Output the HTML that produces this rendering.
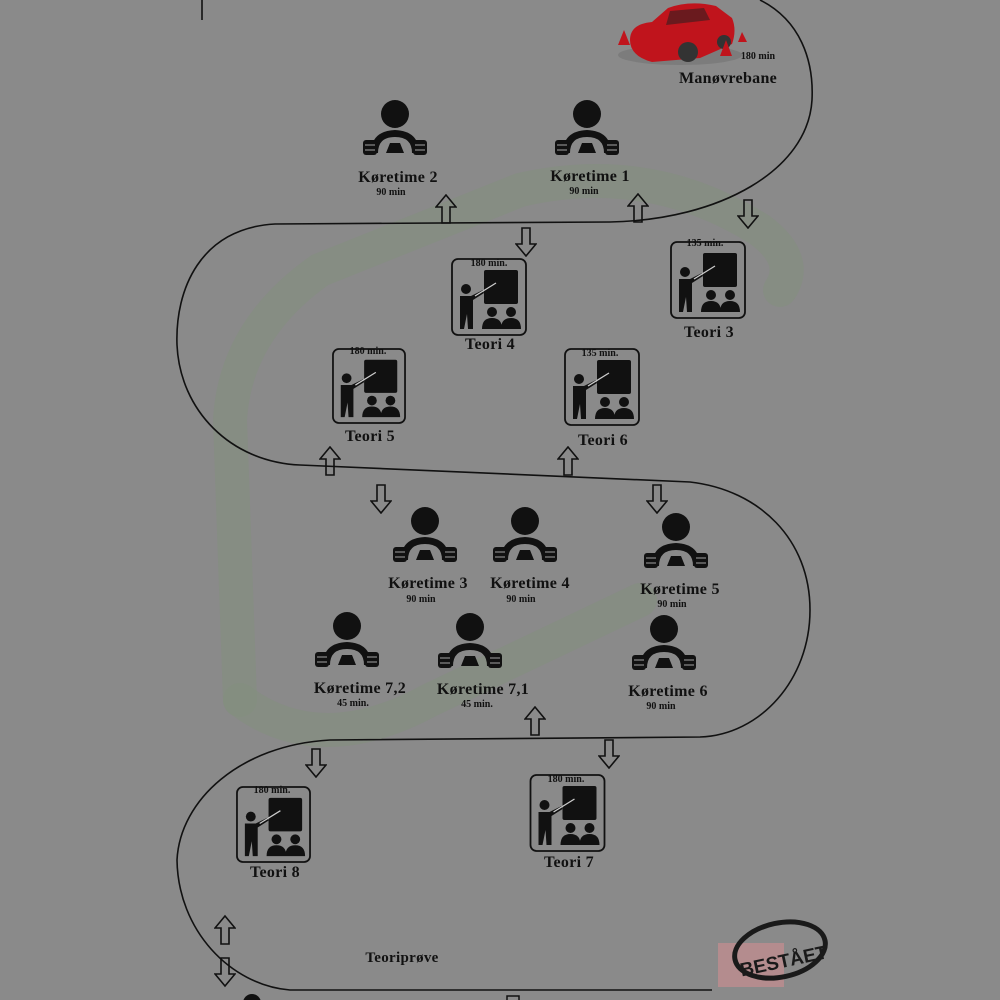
<!DOCTYPE html>
<html><head><meta charset="utf-8"><style>
html,body{margin:0;padding:0}
body{width:1000px;height:1000px;background:#8a8a8a;position:relative;overflow:hidden;font-family:"Liberation Serif","DejaVu Serif",serif;color:#111}
.l{position:absolute;font-weight:bold;font-size:16px;transform:translateX(-50%);white-space:nowrap;letter-spacing:0.3px}
.s{position:absolute;font-weight:bold;font-size:10px;transform:translateX(-50%);white-space:nowrap}
svg{position:absolute;left:0;top:0}
</style></head><body>
<svg width="1000" height="1000" viewBox="0 0 1000 1000">
<defs>
<symbol id="drv" viewBox="-32 -32 64 64">
<circle cx="0" cy="-17" r="14" fill="#111"/>
<path d="M-24 22 Q-24 0 0 -1 Q24 0 24 22 L17 22 Q17 6 0 6 Q-17 6 -17 22Z" fill="#111"/>
<path d="M-9 22 L-5 12 L5 12 L9 22Z" fill="#111"/>
<rect x="-32" y="9" width="14" height="15" rx="3" fill="#111"/>
<rect x="18" y="9" width="14" height="15" rx="3" fill="#111"/>
<line x1="-30" y1="14" x2="-20" y2="14" stroke="#8a8a8a" stroke-width="1.2"/>
<line x1="-30" y1="19" x2="-20" y2="19" stroke="#8a8a8a" stroke-width="1.2"/>
<line x1="20" y1="14" x2="30" y2="14" stroke="#8a8a8a" stroke-width="1.2"/>
<line x1="20" y1="19" x2="30" y2="19" stroke="#8a8a8a" stroke-width="1.2"/>
</symbol>
<symbol id="teo" viewBox="0 0 76 78">
<rect x="1" y="1" width="74" height="76" rx="6" fill="none" stroke="#111" stroke-width="1.8"/>
<rect x="33" y="12" width="34" height="34" rx="2" fill="#111"/>
<circle cx="15" cy="31" r="5" fill="#111"/>
<path d="M9 38 L20 38 L32 32 L33 35 L22 42 L22 71 L17 71 L16 56 L13 71 L9 71Z" fill="#111"/>
<line x1="24" y1="38" x2="45" y2="25" stroke="#ccc" stroke-width="1.3"/>
<circle cx="41" cy="54" r="5" fill="#111"/><circle cx="60" cy="54" r="5" fill="#111"/>
<path d="M31 71 Q31 60 41 60 Q51 60 51 71Z M50 71 Q50 60 60 60 Q70 60 70 71Z" fill="#111"/>
</symbol>
<symbol id="up" viewBox="0 0 22 30"><path d="M11 1 L21 13 L15 13 L15 29 L7 29 L7 13 L1 13Z" fill="none" stroke="#111" stroke-width="1.6"/></symbol>
<symbol id="dn" viewBox="0 0 22 30"><path d="M11 29 L21 17 L15 17 L15 1 L7 1 L7 17 L1 17Z" fill="none" stroke="#111" stroke-width="1.6"/></symbol>
</defs>
<!-- watermark -->
<g fill="none" stroke="#84907f" stroke-opacity="0.6" stroke-width="34" stroke-linecap="round">
<path d="M240 700 L230 420 Q235 330 320 270 L520 190 Q650 160 760 230 Q800 260 780 290"/>
<path d="M240 700 Q320 760 430 700 L640 600"/>
</g>
<path d="M760 0 C 800 20, 814 60, 812 100 C 808 170, 720 220, 610 222 L 275 224 C 200 228, 175 290, 177 345 C 180 410, 230 462, 300 465 L 690 482 C 760 490, 810 540, 810 610 C 810 680, 760 735, 700 737 L 330 740 C 240 745, 180 800, 177 860 C 178 930, 230 985, 290 990 L 712 990" fill="none" stroke="#111" stroke-width="1.6"/>
<line x1="202" y1="0" x2="202" y2="20" stroke="#111" stroke-width="1.6"/>
<!-- car -->
<g>
<ellipse cx="680" cy="55" rx="62" ry="10" fill="#7c7c7c"/>
<path d="M630 40 Q630 24 652 22 L668 8 Q690 0 716 6 L732 18 Q737 30 732 44 L700 58 L652 62 Q630 56 630 40Z" fill="#c0141c"/>
<path d="M670 11 L704 8 L710 20 L666 25Z" fill="#6a1a1e"/>
<circle cx="688" cy="52" r="10" fill="#333"/><circle cx="724" cy="42" r="7" fill="#333"/>
<path d="M618 45 L624 30 L630 45Z M720 56 L726 40 L732 56Z M738 42 L742 32 L747 42Z" fill="#c0141c"/>
</g>
<use href="#drv" x="363" y="99" width="64" height="64"/>
<use href="#drv" x="555" y="99" width="64" height="64"/>
<use href="#drv" x="393" y="506" width="64" height="64"/>
<use href="#drv" x="493" y="506" width="64" height="64"/>
<use href="#drv" x="644" y="512" width="64" height="64"/>
<use href="#drv" x="315" y="611" width="64" height="64"/>
<use href="#drv" x="438" y="612" width="64" height="64"/>
<use href="#drv" x="632" y="614" width="64" height="64"/>
<use href="#teo" x="451" y="258" width="76" height="78"/>
<use href="#teo" x="670" y="238" width="76" height="84"/>
<use href="#teo" x="332" y="346" width="74" height="80"/>
<use href="#teo" x="564" y="348" width="76" height="78"/>
<use href="#teo" x="235" y="786" width="77" height="77"/>
<use href="#teo" x="529" y="774" width="77" height="78"/>
<use href="#up" x="435" y="194" width="22" height="30"/>
<use href="#up" x="627" y="193" width="22" height="30"/>
<use href="#dn" x="737" y="199" width="22" height="30"/>
<use href="#dn" x="515" y="227" width="22" height="30"/>
<use href="#up" x="319" y="446" width="22" height="30"/>
<use href="#up" x="557" y="446" width="22" height="30"/>
<use href="#dn" x="370" y="484" width="22" height="30"/>
<use href="#dn" x="646" y="484" width="22" height="30"/>
<use href="#up" x="524" y="706" width="22" height="30"/>
<use href="#dn" x="305" y="748" width="22" height="30"/>
<use href="#dn" x="598" y="739" width="22" height="30"/>
<use href="#up" x="214" y="913" width="22" height="34"/>
<use href="#dn" x="214" y="955" width="22" height="34"/>
<rect x="507" y="996" width="12" height="10" fill="none" stroke="#111" stroke-width="1.5"/>
<circle cx="252" cy="1003" r="9" fill="#111"/>
<!-- license / stamp -->
<rect x="718" y="943" width="66" height="44" fill="#b48c8e"/>
<ellipse cx="780" cy="950" rx="46" ry="27" transform="rotate(-12 780 950)" fill="none" stroke="#1a1a1a" stroke-width="5"/>
<text x="738" y="968" font-family="Liberation Sans, sans-serif" font-weight="bold" font-size="19" fill="#1a1a1a" transform="rotate(-12 780 955)">BESTÅET</text>
</svg>
<div class="l" style="left:728px;top:70px;font-size:16px">Manøvrebane</div>
<div class="s" style="left:758px;top:51px">180 min</div>
<div class="l" style="left:398px;top:169px">Køretime 2</div><div class="s" style="left:391px;top:187px">90 min</div>
<div class="l" style="left:590px;top:168px">Køretime 1</div><div class="s" style="left:584px;top:186px">90 min</div>
<div class="s" style="left:489px;top:258px">180 min.</div>
<div class="l" style="left:490px;top:336px">Teori 4</div>
<div class="s" style="left:705px;top:238px">135 min.</div>
<div class="l" style="left:709px;top:324px">Teori 3</div>
<div class="s" style="left:368px;top:346px">180 min.</div>
<div class="l" style="left:370px;top:428px">Teori 5</div>
<div class="s" style="left:600px;top:348px">135 min.</div>
<div class="l" style="left:603px;top:432px">Teori 6</div>
<div class="l" style="left:428px;top:575px">Køretime 3</div><div class="s" style="left:421px;top:594px">90 min</div>
<div class="l" style="left:530px;top:575px">Køretime 4</div><div class="s" style="left:521px;top:594px">90 min</div>
<div class="l" style="left:680px;top:581px">Køretime 5</div><div class="s" style="left:672px;top:599px">90 min</div>
<div class="l" style="left:360px;top:680px">Køretime 7,2</div><div class="s" style="left:353px;top:698px">45 min.</div>
<div class="l" style="left:483px;top:681px">Køretime 7,1</div><div class="s" style="left:477px;top:699px">45 min.</div>
<div class="l" style="left:668px;top:683px">Køretime 6</div><div class="s" style="left:661px;top:701px">90 min</div>
<div class="s" style="left:272px;top:785px">180 min.</div>
<div class="l" style="left:275px;top:864px">Teori 8</div>
<div class="s" style="left:566px;top:774px">180 min.</div>
<div class="l" style="left:569px;top:854px">Teori 7</div>
<div class="l" style="left:402px;top:950px;font-size:15px">Teoriprøve</div>
</body></html>
